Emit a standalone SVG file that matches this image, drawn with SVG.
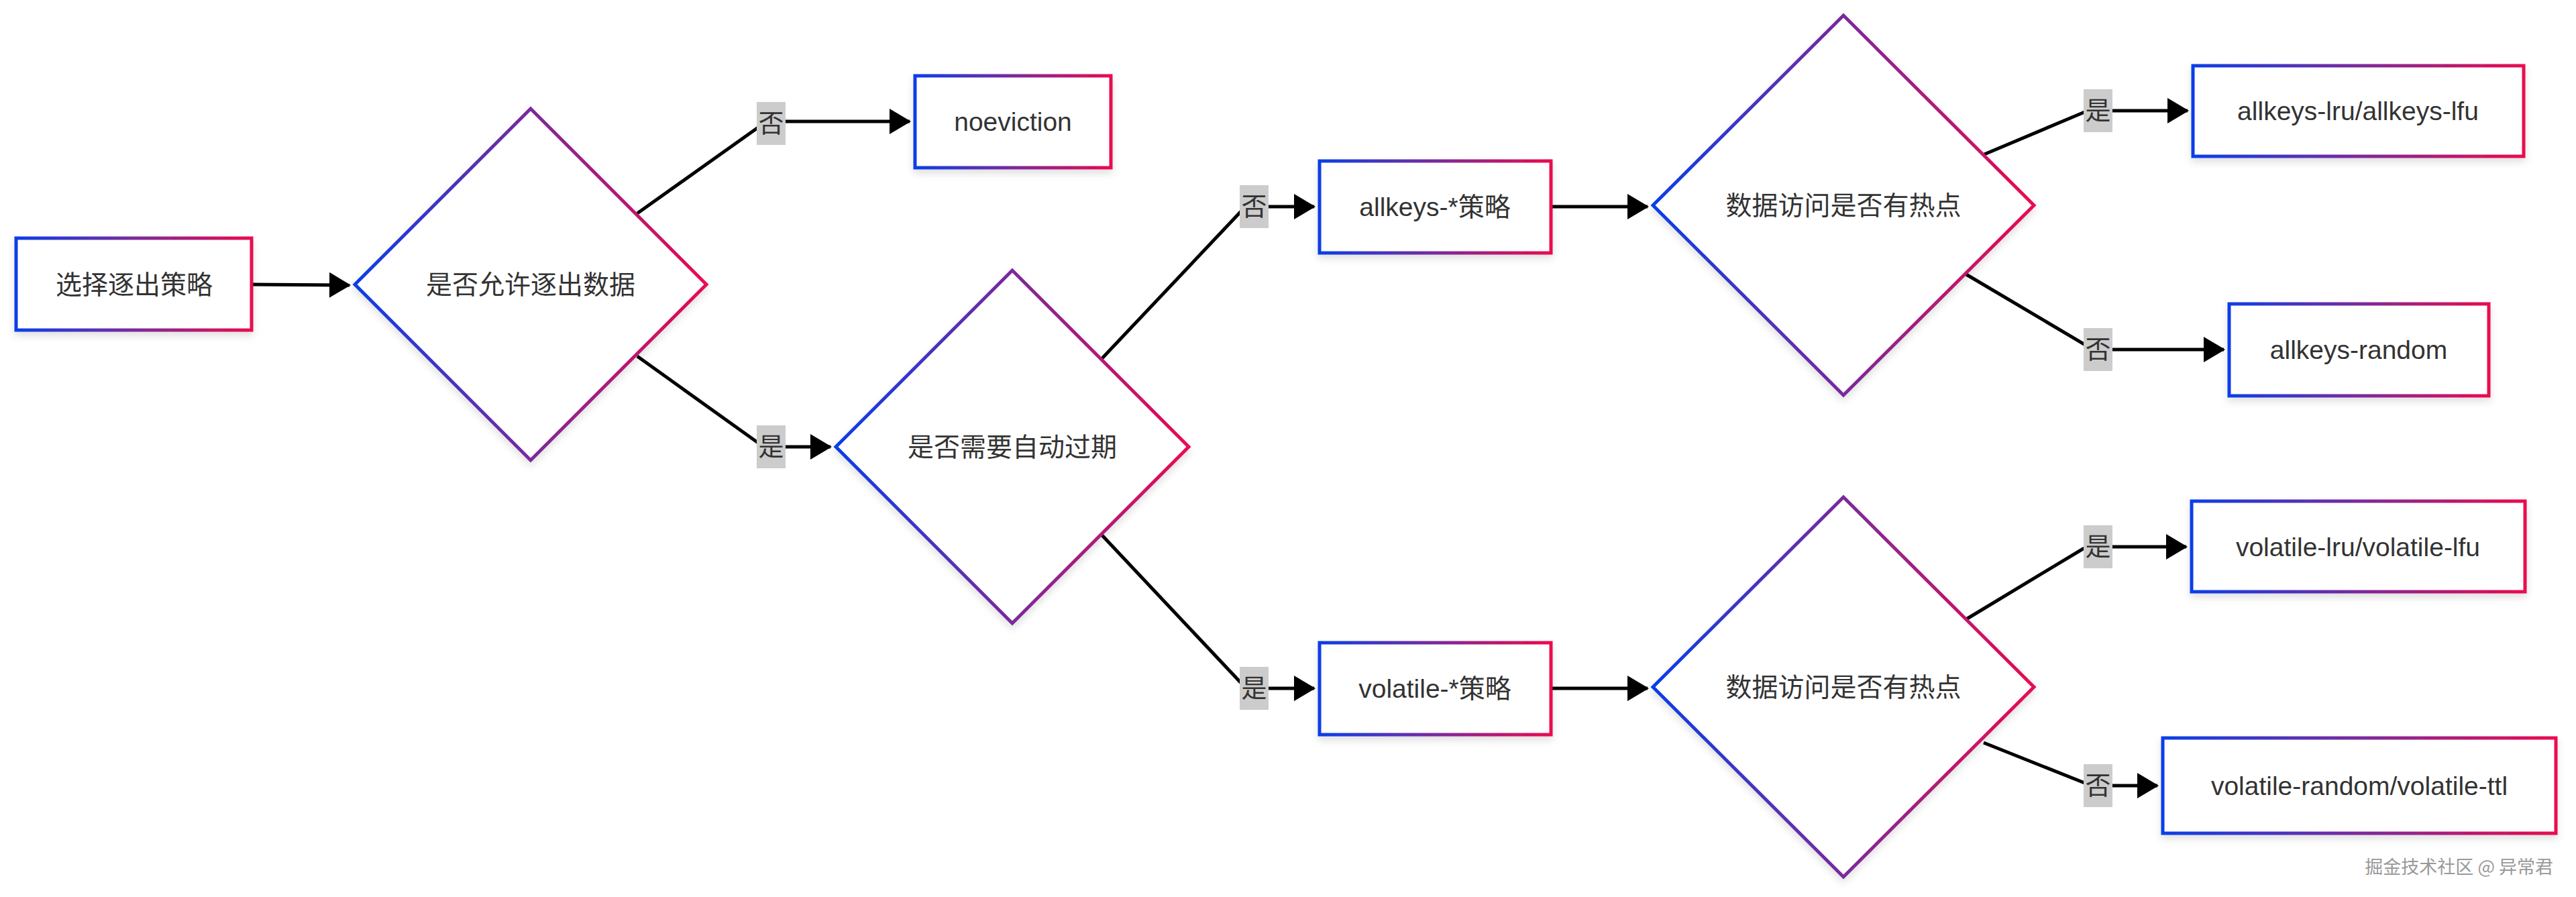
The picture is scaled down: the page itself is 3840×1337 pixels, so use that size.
<svg xmlns="http://www.w3.org/2000/svg" width="3840" height="1337" viewBox="0 0 3840 1337">
<defs>
<linearGradient id="g" x1="0" y1="0" x2="1" y2="0"><stop offset="0" stop-color="#0a3ee8"/><stop offset="0.5" stop-color="#7a2a9c"/><stop offset="1" stop-color="#ea0a4e"/></linearGradient>
<filter id="sh" x="-10%" y="-10%" width="120%" height="130%"><feDropShadow dx="0" dy="6" stdDeviation="6" flood-color="#000" flood-opacity="0.12"/></filter>
<marker id="ar" markerUnits="userSpaceOnUse" markerWidth="32" markerHeight="38" refX="30" refY="19" orient="auto"><path d="M0,0 L32,19 L0,38 z" fill="#000"/></marker>
</defs>
<style>
.n{fill:#fff;stroke:url(#g);stroke-width:5;filter:url(#sh)}
.t{font-family:"Liberation Sans","Noto Sans CJK SC",sans-serif;font-size:39px;fill:#333;text-anchor:middle;dominant-baseline:central}
.e{fill:none;stroke:#000;stroke-width:5}
.lb{fill:#ccc}
.lt{font-family:"Liberation Sans","Noto Sans CJK SC",sans-serif;font-size:38px;fill:#333;text-anchor:middle;dominant-baseline:central}
</style>
<rect width="3840" height="1337" fill="#fff"/>
<g id="edges">
<path class="e" marker-end="url(#ar)" d="M375,424 L521,425"/>
<path class="e" marker-end="url(#ar)" d="M950,318 L1130,190 Q1140,181 1170,181 L1356,181"/>
<path class="e" marker-end="url(#ar)" d="M950,531 L1130,660 Q1140,666 1170,666 L1238,666"/>
<path class="e" marker-end="url(#ar)" d="M1643,534 L1850,315 Q1860,308 1890,308 L1959,308"/>
<path class="e" marker-end="url(#ar)" d="M1643,798 L1850,1018 Q1860,1026 1890,1026 L1959,1026"/>
<path class="e" marker-end="url(#ar)" d="M2312,308 L2456,308"/>
<path class="e" marker-end="url(#ar)" d="M2312,1026 L2456,1026"/>
<path class="e" marker-end="url(#ar)" d="M2958,230 L3105,168 Q3115,165 3150,165 L3261,165"/>
<path class="e" marker-end="url(#ar)" d="M2931,409 L3105,512 Q3115,521 3150,521 L3315,521"/>
<path class="e" marker-end="url(#ar)" d="M2931,923 L3105,818 Q3115,815 3150,815 L3259,815"/>
<path class="e" marker-end="url(#ar)" d="M2957,1107 L3105,1166 Q3115,1171 3150,1171 L3216,1171"/>
</g>
<g id="labels">
<rect class="lb" x="1128" y="152" width="43" height="64"/><text class="lt" x="1149.5" y="184">否</text>
<rect class="lb" x="1128" y="634" width="43" height="64"/><text class="lt" x="1149.5" y="666">是</text>
<rect class="lb" x="1848" y="276" width="43" height="64"/><text class="lt" x="1869.5" y="308">否</text>
<rect class="lb" x="1848" y="994" width="43" height="64"/><text class="lt" x="1869.5" y="1026">是</text>
<rect class="lb" x="3106" y="133" width="43" height="64"/><text class="lt" x="3127.5" y="165">是</text>
<rect class="lb" x="3106" y="489" width="43" height="64"/><text class="lt" x="3127.5" y="521">否</text>
<rect class="lb" x="3106" y="783" width="43" height="64"/><text class="lt" x="3127.5" y="815">是</text>
<rect class="lb" x="3106" y="1139" width="43" height="64"/><text class="lt" x="3127.5" y="1171">否</text>
</g>
<g id="start"><rect class="n" x="24" y="355" width="351" height="137"/><text class="t" x="200" y="424">选择逐出策略</text></g>
<g id="d1"><polygon class="n" points="791,162 1053,424 791,686 529,424"/><text class="t" x="791" y="424">是否允许逐出数据</text></g>
<g id="noeviction"><rect class="n" x="1364" y="113" width="292" height="137"/><text class="t" x="1510" y="181">noeviction</text></g>
<g id="d2"><polygon class="n" points="1509,403 1772,666 1509,929 1246,666"/><text class="t" x="1509" y="666">是否需要自动过期</text></g>
<g id="allkeys"><rect class="n" x="1967" y="240" width="345" height="137"/><text class="t" x="2139" y="308">allkeys-*策略</text></g>
<g id="volatile"><rect class="n" x="1967" y="958" width="345" height="137"/><text class="t" x="2139" y="1026">volatile-*策略</text></g>
<g id="d3"><polygon class="n" points="2748,23 3032,306 2748,589 2464,306"/><text class="t" x="2748" y="306">数据访问是否有热点</text></g>
<g id="d4"><polygon class="n" points="2748,741 3032,1024 2748,1307 2464,1024"/><text class="t" x="2748" y="1024">数据访问是否有热点</text></g>
<g id="allkeys-lru"><rect class="n" x="3269" y="98" width="493" height="135"/><text class="t" x="3515" y="165">allkeys-lru/allkeys-lfu</text></g>
<g id="allkeys-random"><rect class="n" x="3323" y="453" width="387" height="137"/><text class="t" x="3516" y="521">allkeys-random</text></g>
<g id="volatile-lru"><rect class="n" x="3267" y="747" width="497" height="135"/><text class="t" x="3515" y="815">volatile-lru/volatile-lfu</text></g>
<g id="volatile-random"><rect class="n" x="3224" y="1100" width="586" height="142"/><text class="t" x="3517" y="1171">volatile-random/volatile-ttl</text></g>
<text x="3806" y="1302" font-family="'Noto Sans CJK SC',sans-serif" font-size="27" fill="#999" text-anchor="end">掘金技术社区 @ 异常君</text>
</svg>
